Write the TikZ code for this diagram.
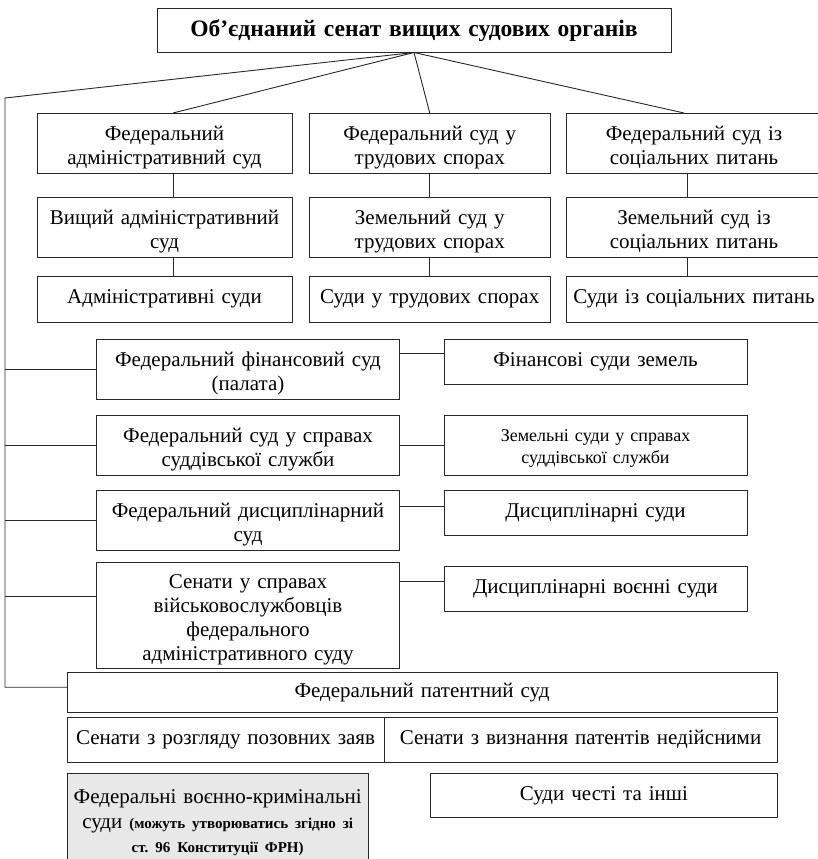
\documentclass[tikz,border=0pt]{standalone}
\usepackage{fontspec}
\setmainfont{Liberation Serif}
\frenchspacing
\definecolor{greyfill}{RGB}{232,232,232}
\definecolor{linec}{RGB}{40,40,40}
\newcommand{\lowr}{\rule{0pt}{23pt}}
\begin{document}
\begin{tikzpicture}[x=1pt,y=-1pt,
  box/.style={draw=linec, line width=0.9pt, inner sep=0pt, outer sep=0pt, align=center,
    font={\fontsize{21}{24}\selectfont}},
  smallbox/.style={box, font={\fontsize{18}{22}\selectfont}},
  conn/.style={draw=linec, line width=0.9pt}]
\useasboundingbox (0,0) rectangle (818,859);
% title
\node[box, minimum width=514pt, minimum height=44pt, text width=505pt,
  font={\fontsize{23.5}{26}\selectfont\bfseries}] (title) at (414,30.5)
  {Об’єднаний сенат вищих судових органів};
% three columns
\node[box, minimum width=255pt, minimum height=60pt, text width=250pt] (c1r1) at (164.5,143) {\lowr Федеральний\\адміністративний суд};
\node[box, minimum width=241.5pt, minimum height=60pt, text width=236pt] (c2r1) at (429.75,143) {\lowr Федеральний суд у\\трудових спорах};
\node[box, minimum width=256pt, minimum height=60pt, text width=250pt] (c3r1) at (694,143) {\lowr Федеральний суд із\\соціальних питань};
\node[box, minimum width=255pt, minimum height=60pt, text width=250pt] (c1r2) at (164.5,227) {\lowr Вищий адміністративний\\суд};
\node[box, minimum width=241.5pt, minimum height=60pt, text width=236pt] (c2r2) at (429.75,227) {\lowr Земельний суд у\\трудових спорах};
\node[box, minimum width=256pt, minimum height=60pt, text width=250pt] (c3r2) at (694,227) {\lowr Земельний суд із\\соціальних питань};
\node[box, minimum width=255pt, minimum height=46pt, text width=250pt] (c1r3) at (164.5,299) {Адміністративні суди};
\node[box, minimum width=241.5pt, minimum height=46pt, text width=240pt] (c2r3) at (429.75,299) {Суди у трудових спорах};
\node[box, minimum width=256pt, minimum height=46pt, text width=254pt] (c3r3) at (694,299) {Суди із соціальних питань};
% left / right pairs
\node[box, minimum width=303pt, minimum height=60pt, text width=296pt] (A1) at (248,369) {\lowr Федеральний фінансовий суд\\(палата)};
\node[box, minimum width=303pt, minimum height=45pt, text width=296pt] (B1) at (595.5,361.5) {Фінансові суди земель};
\node[box, minimum width=303pt, minimum height=60pt, text width=296pt] (A2) at (248,445) {\lowr Федеральний суд у справах\\суддівської служби};
\node[smallbox, minimum width=303pt, minimum height=60pt, text width=296pt] (B2) at (595.5,445) {\rule{0pt}{19pt}Земельні суди у справах\\суддівської служби};
\node[box, minimum width=303pt, minimum height=60pt, text width=296pt] (A3) at (248,520) {\lowr Федеральний дисциплінарний\\суд};
\node[box, minimum width=303pt, minimum height=45pt, text width=296pt] (B3) at (595.5,512.5) {Дисциплінарні суди};
\node[box, minimum width=303pt, minimum height=106pt, text width=296pt] (A4) at (248,615) {\lowr Сенати у справах\\військовослужбовців\\федерального\\адміністративного суду};
\node[box, minimum width=303pt, minimum height=45pt, text width=296pt] (B4) at (595.5,588.5) {Дисциплінарні воєнні суди};
% patent court
\node[box, minimum width=710pt, minimum height=39.5pt, text width=700pt] (P) at (422,692.25) {Федеральний патентний суд};
\node[box, minimum width=317pt, minimum height=45pt, text width=314pt] (S1) at (225.5,739.5) {Сенати з розгляду позовних заяв};
\node[box, minimum width=393pt, minimum height=45pt, text width=390pt] (S2) at (580.5,739.5) {Сенати з визнання патентів недійсними};
% bottom
\node[box, fill=greyfill, minimum width=301.3pt, minimum height=90pt, text width=298pt] (G) at (217.7,818)
  {\lowr Федеральні воєнно-кримінальні\\[1pt]суди {\fontsize{15}{24}\selectfont\bfseries (можуть утворюватись згідно зі}\\{\fontsize{15}{24}\selectfont\bfseries ст. 96 Конституції ФРН)}};
\node[box, minimum width=346.3pt, minimum height=44.7pt, text width=340pt] (H) at (603.85,795.35) {Суди честі та інші};
% connectors from the title
\coordinate (L) at (5,98);
\coordinate (Pin) at ([yshift=5pt]P.west);
\draw[conn] (title.south) -- ([xshift=8.5pt]c1r1.north);
\draw[conn] (title.south) -- (c2r1.north);
\draw[conn] (title.south) -- ([xshift=-10pt]c3r1.north);
\draw[conn] (title.south) -- (L) -- (L |- Pin) -- (Pin);
% column connectors
\draw[conn] ([xshift=8.5pt]c1r1.south) -- ([xshift=8.5pt]c1r2.north);
\draw[conn] ([xshift=8.5pt]c1r2.south) -- ([xshift=8.5pt]c1r3.north);
\draw[conn] (c2r1.south) -- (c2r2.north);
\draw[conn] (c2r2.south) -- (c2r3.north);
\draw[conn] ([xshift=-7pt]c3r1.south) -- ([xshift=-7pt]c3r2.north);
\draw[conn] ([xshift=-7pt]c3r2.south) -- ([xshift=-7pt]c3r3.north);
% spine branches
\coordinate (a4in) at ([yshift=19pt]A4.west);
\draw[conn] (L |- A1.west) -- (A1.west);
\draw[conn] (L |- A2.west) -- (A2.west);
\draw[conn] (L |- A3.west) -- (A3.west);
\draw[conn] (L |- a4in) -- (a4in);
% pair connectors
\coordinate (b1) at ([yshift=8.5pt]B1.west);
\coordinate (b3) at ([yshift=6.5pt]B3.west);
\coordinate (b4) at ([yshift=7.5pt]B4.west);
\draw[conn] (b1) -- (b1 -| A1.east);
\draw[conn] (B2.west) -- (A2.east);
\draw[conn] (b3) -- (b3 -| A3.east);
\draw[conn] (b4) -- (b4 -| A4.east);
\end{tikzpicture}
\end{document}
